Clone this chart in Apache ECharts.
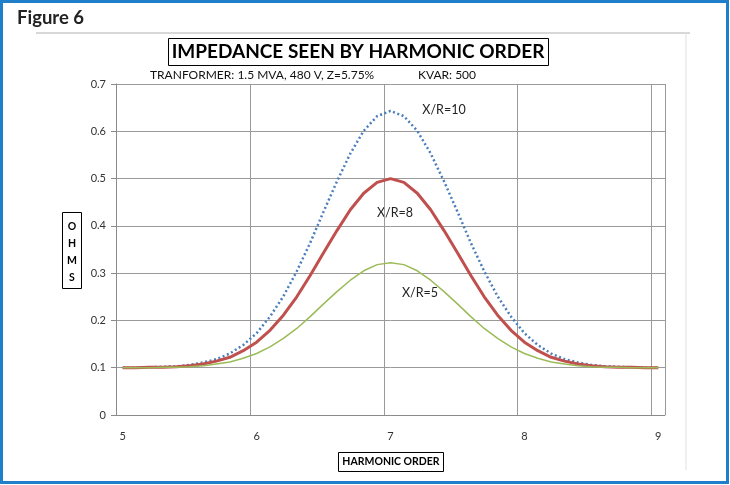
<!DOCTYPE html>
<html><head><meta charset="utf-8">
<script src="https://cdn.jsdelivr.net/npm/echarts@6/dist/echarts.min.js"></script>
<style>html,body{margin:0;padding:0;background:#fff}#c{width:730px;height:485px}</style>
</head><body><div id="c"></div>
<script>
var categories = ['5','5.1','5.2','5.3','5.4','5.5','5.6','5.7','5.8','5.9','6','6.1','6.2','6.3','6.4','6.5','6.6','6.7','6.8','6.9','7','7.1','7.2','7.3','7.4','7.5','7.6','7.7','7.8','7.9','8','8.1','8.2','8.3','8.4','8.5','8.6','8.7','8.8','8.9','9'];
var xr10 = [0.100,0.100,0.101,0.102,0.103,0.106,0.111,0.118,0.130,0.148,0.173,0.208,0.251,0.304,0.364,0.430,0.494,0.553,0.601,0.632,0.643,0.632,0.601,0.553,0.494,0.430,0.364,0.304,0.251,0.208,0.173,0.148,0.130,0.118,0.111,0.106,0.103,0.102,0.101,0.100,0.100];
var xr8 = [0.100,0.100,0.101,0.101,0.102,0.104,0.108,0.114,0.122,0.136,0.154,0.179,0.211,0.250,0.295,0.343,0.390,0.434,0.469,0.492,0.500,0.492,0.469,0.434,0.390,0.343,0.295,0.250,0.211,0.179,0.154,0.136,0.122,0.114,0.108,0.104,0.102,0.101,0.101,0.100,0.100];
var xr5 = [0.100,0.100,0.100,0.101,0.101,0.102,0.104,0.108,0.112,0.120,0.130,0.144,0.162,0.183,0.208,0.235,0.261,0.285,0.305,0.318,0.322,0.318,0.305,0.285,0.261,0.235,0.208,0.183,0.162,0.144,0.130,0.120,0.112,0.108,0.104,0.102,0.101,0.101,0.100,0.100,0.100];
var seriesNames = ['X/R=10','X/R=8','X/R=5'];
var yTicks = {min:0, max:0.7, interval:0.1};

var FONT = 'Lato, "Open Sans", sans-serif';
var chart = echarts.init(document.getElementById('c'), null, {renderer:'canvas'});
chart.setOption({
  animation:false,
  backgroundColor:'#fff',
  grid:{left:116, right:65, top:84, bottom:70, containLabel:false},
  xAxis:{
    type:'category', data:categories, boundaryGap:true,
    axisLine:{lineStyle:{color:'#8a8a8a', width:1}},
    axisTick:{interval:9, length:5, lineStyle:{color:'#8a8a8a'}},
    axisLabel:{interval:9, color:'#333', fontSize:11, fontFamily:FONT, margin:16},
    splitLine:{show:true, interval:9, lineStyle:{color:'#9a9a9a', width:1}}
  },
  yAxis:{
    type:'value', min:yTicks.min, max:yTicks.max, interval:yTicks.interval,
    axisLine:{show:true, lineStyle:{color:'#8a8a8a'}},
    axisTick:{show:true, length:5, lineStyle:{color:'#8a8a8a'}},
    axisLabel:{color:'#333', fontSize:11, fontFamily:FONT, margin:10},
    splitLine:{lineStyle:{color:'#9a9a9a', width:1}}
  },
  series:[
    {name:seriesNames[0], type:'line', data:xr10, showSymbol:false, symbol:'none', smooth:false,
     lineStyle:{color:'#4a7ebb', width:2.5, type:[2,2.6], cap:'butt'}},
    {name:seriesNames[1], type:'line', data:xr8, showSymbol:false, symbol:'none',
     lineStyle:{color:'#c0504d', width:3}},
    {name:seriesNames[2], type:'line', data:xr5, showSymbol:false, symbol:'none',
     lineStyle:{color:'#9bbb59', width:1.5}}
  ],
  graphic:[
    {type:'rect', shape:{x:1.5, y:1.5, width:726, height:481}, style:{fill:'none', stroke:'#1f7fc8', lineWidth:3}, silent:true},
    {type:'line', shape:{x1:36, y1:33, x2:690, y2:33}, style:{stroke:'#b0b0b0', lineWidth:1}},
    {type:'line', shape:{x1:686, y1:33, x2:686, y2:470}, style:{stroke:'#e0e0e0', lineWidth:1}},
    {type:'text', left:17, top:9, style:{text:'Figure 6', font:'bold 18.5px '+FONT, fill:'#222'}},
    {type:'rect', shape:{x:168.5, y:38.5, width:380, height:27}, style:{fill:'#fff', stroke:'#000', lineWidth:1}},
    {type:'text', x:358, y:52, style:{text:'IMPEDANCE SEEN BY HARMONIC ORDER', font:'bold 19px '+FONT, fill:'#000', textAlign:'center', textVerticalAlign:'middle'}},
    {type:'text', x:150, y:75, style:{text:'TRANFORMER: 1.5 MVA, 480 V, Z=5.75%', font:'12px '+FONT, fill:'#111', textVerticalAlign:'middle'}},
    {type:'text', x:418, y:75, style:{text:'KVAR: 500', font:'12px '+FONT, fill:'#111', textVerticalAlign:'middle'}},
    {type:'rect', shape:{x:62.5, y:212.5, width:19, height:76}, style:{fill:'#fff', stroke:'#000', lineWidth:1}},
    {type:'text', x:72, y:227, style:{text:'O', font:'bold 10.5px '+FONT, fill:'#000', textAlign:'center', textVerticalAlign:'middle'}},
    {type:'text', x:72, y:244, style:{text:'H', font:'bold 10.5px '+FONT, fill:'#000', textAlign:'center', textVerticalAlign:'middle'}},
    {type:'text', x:72, y:261, style:{text:'M', font:'bold 10.5px '+FONT, fill:'#000', textAlign:'center', textVerticalAlign:'middle'}},
    {type:'text', x:72, y:278, style:{text:'S', font:'bold 10.5px '+FONT, fill:'#000', textAlign:'center', textVerticalAlign:'middle'}},
    {type:'rect', shape:{x:338.5, y:452.5, width:105, height:19}, style:{fill:'#fff', stroke:'#000', lineWidth:1}},
    {type:'text', x:391, y:462, style:{text:'HARMONIC ORDER', font:'bold 10.5px '+FONT, fill:'#000', textAlign:'center', textVerticalAlign:'middle'}},
    {type:'text', x:444, y:110, style:{text:seriesNames[0], font:'12.5px '+FONT, fill:'#222', textAlign:'center', textVerticalAlign:'middle'}},
    {type:'text', x:395, y:213, style:{text:seriesNames[1], font:'12.5px '+FONT, fill:'#222', textAlign:'center', textVerticalAlign:'middle'}},
    {type:'text', x:420, y:293, style:{text:seriesNames[2], font:'12.5px '+FONT, fill:'#222', textAlign:'center', textVerticalAlign:'middle'}}
  ]
});
</script></body></html>
